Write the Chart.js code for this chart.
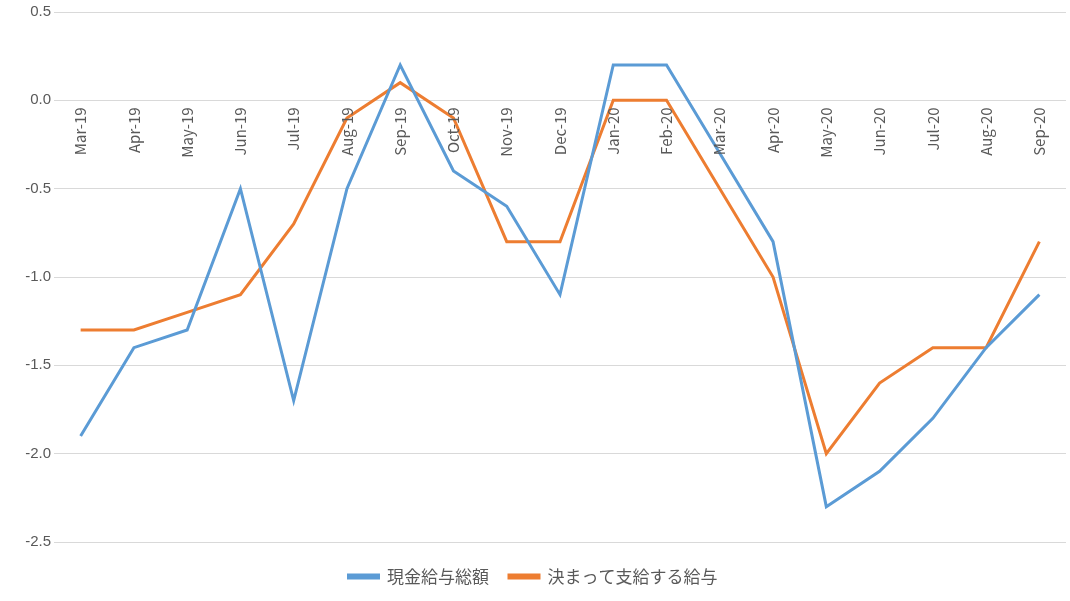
<!DOCTYPE html>
<html lang="ja">
<head>
<meta charset="UTF-8">
<title>給与推移</title>
<script src="https://cdn.jsdelivr.net/npm/chart.js"></script>
<style>
  html, body { margin: 0; padding: 0; background: #fff; }
  #wrap { width: 1070px; height: 601px; }
</style>
</head>
<body>
<div id="wrap"><canvas id="chartCanvas"></canvas></div>
<script>
const labels = ['Mar-19','Apr-19','May-19','Jun-19','Jul-19','Aug-19','Sep-19','Oct-19','Nov-19','Dec-19',
                'Jan-20','Feb-20','Mar-20','Apr-20','May-20','Jun-20','Jul-20','Aug-20','Sep-20'];
const totalPay = [-1.9,-1.4,-1.3,-0.5,-1.7,-0.5,0.2,-0.4,-0.6,-1.1,0.2,0.2,-0.3,-0.8,-2.3,-2.1,-1.8,-1.4,-1.1];
const regularPay = [-1.3,-1.3,-1.2,-1.1,-0.7,-0.1,0.1,-0.1,-0.8,-0.8,0,0,-0.5,-1.0,-2.0,-1.6,-1.4,-1.4,-0.8];

// category labels drawn just under the zero line, rotated
const zeroLabels = {
    id: 'zeroLabels',
    afterDatasetsDraw(chart) {
        const c = chart.ctx;
        const x = chart.scales.x, y = chart.scales.y;
        const y0 = y.getPixelForValue(0);
        c.save();
        c.font = '15px "Noto Sans CJK JP", "Liberation Sans", sans-serif';
        c.fillStyle = '#595959';
        c.textAlign = 'right';
        c.textBaseline = 'middle';
        labels.forEach((l, i) => {
            c.save();
            c.translate(x.getPixelForValue(i), y0 + 7);
            c.rotate(-Math.PI / 2);
            c.fillText(l, 0, 0);
            c.restore();
        });
        c.restore();
    }
};

new Chart(document.getElementById('chartCanvas'), {
    type: 'line',
    data: {
        labels: labels,
        datasets: [
            { label: '現金給与総額', data: totalPay, borderColor: '#5b9bd5', backgroundColor: '#5b9bd5',
              borderWidth: 3, pointRadius: 0, tension: 0 },
            { label: '決まって支給する給与', data: regularPay, borderColor: '#ed7d31', backgroundColor: '#ed7d31',
              borderWidth: 3, pointRadius: 0, tension: 0 }
        ]
    },
    options: {
        responsive: true,
        maintainAspectRatio: false,
        animation: false,
        layout: { padding: { top: 9, right: 4, bottom: 6 } },
        scales: {
            x: {
                offset: true,
                grid: { display: false, drawTicks: false },
                border: { display: false },
                ticks: { display: false },
                afterFit(s) { s.height = 6; }
            },
            y: {
                min: -2.5, max: 0.5,
                ticks: {
                    stepSize: 0.5,
                    color: '#595959',
                    font: { size: 15, family: '"Liberation Sans", sans-serif' },
                    callback: v => v.toFixed(1)
                },
                grid: { color: '#d9d9d9', drawTicks: false },
                border: { display: false },
                afterFit(s) { s.width = 54; }
            }
        },
        plugins: {
            legend: {
                position: 'bottom',
                labels: {
                    boxWidth: 30, boxHeight: 3, padding: 20,
                    color: '#595959',
                    font: { size: 17, family: '"Noto Sans CJK JP", sans-serif' }
                }
            },
            tooltip: { enabled: false }
        }
    },
    plugins: [zeroLabels]
});
</script>
</body>
</html>
